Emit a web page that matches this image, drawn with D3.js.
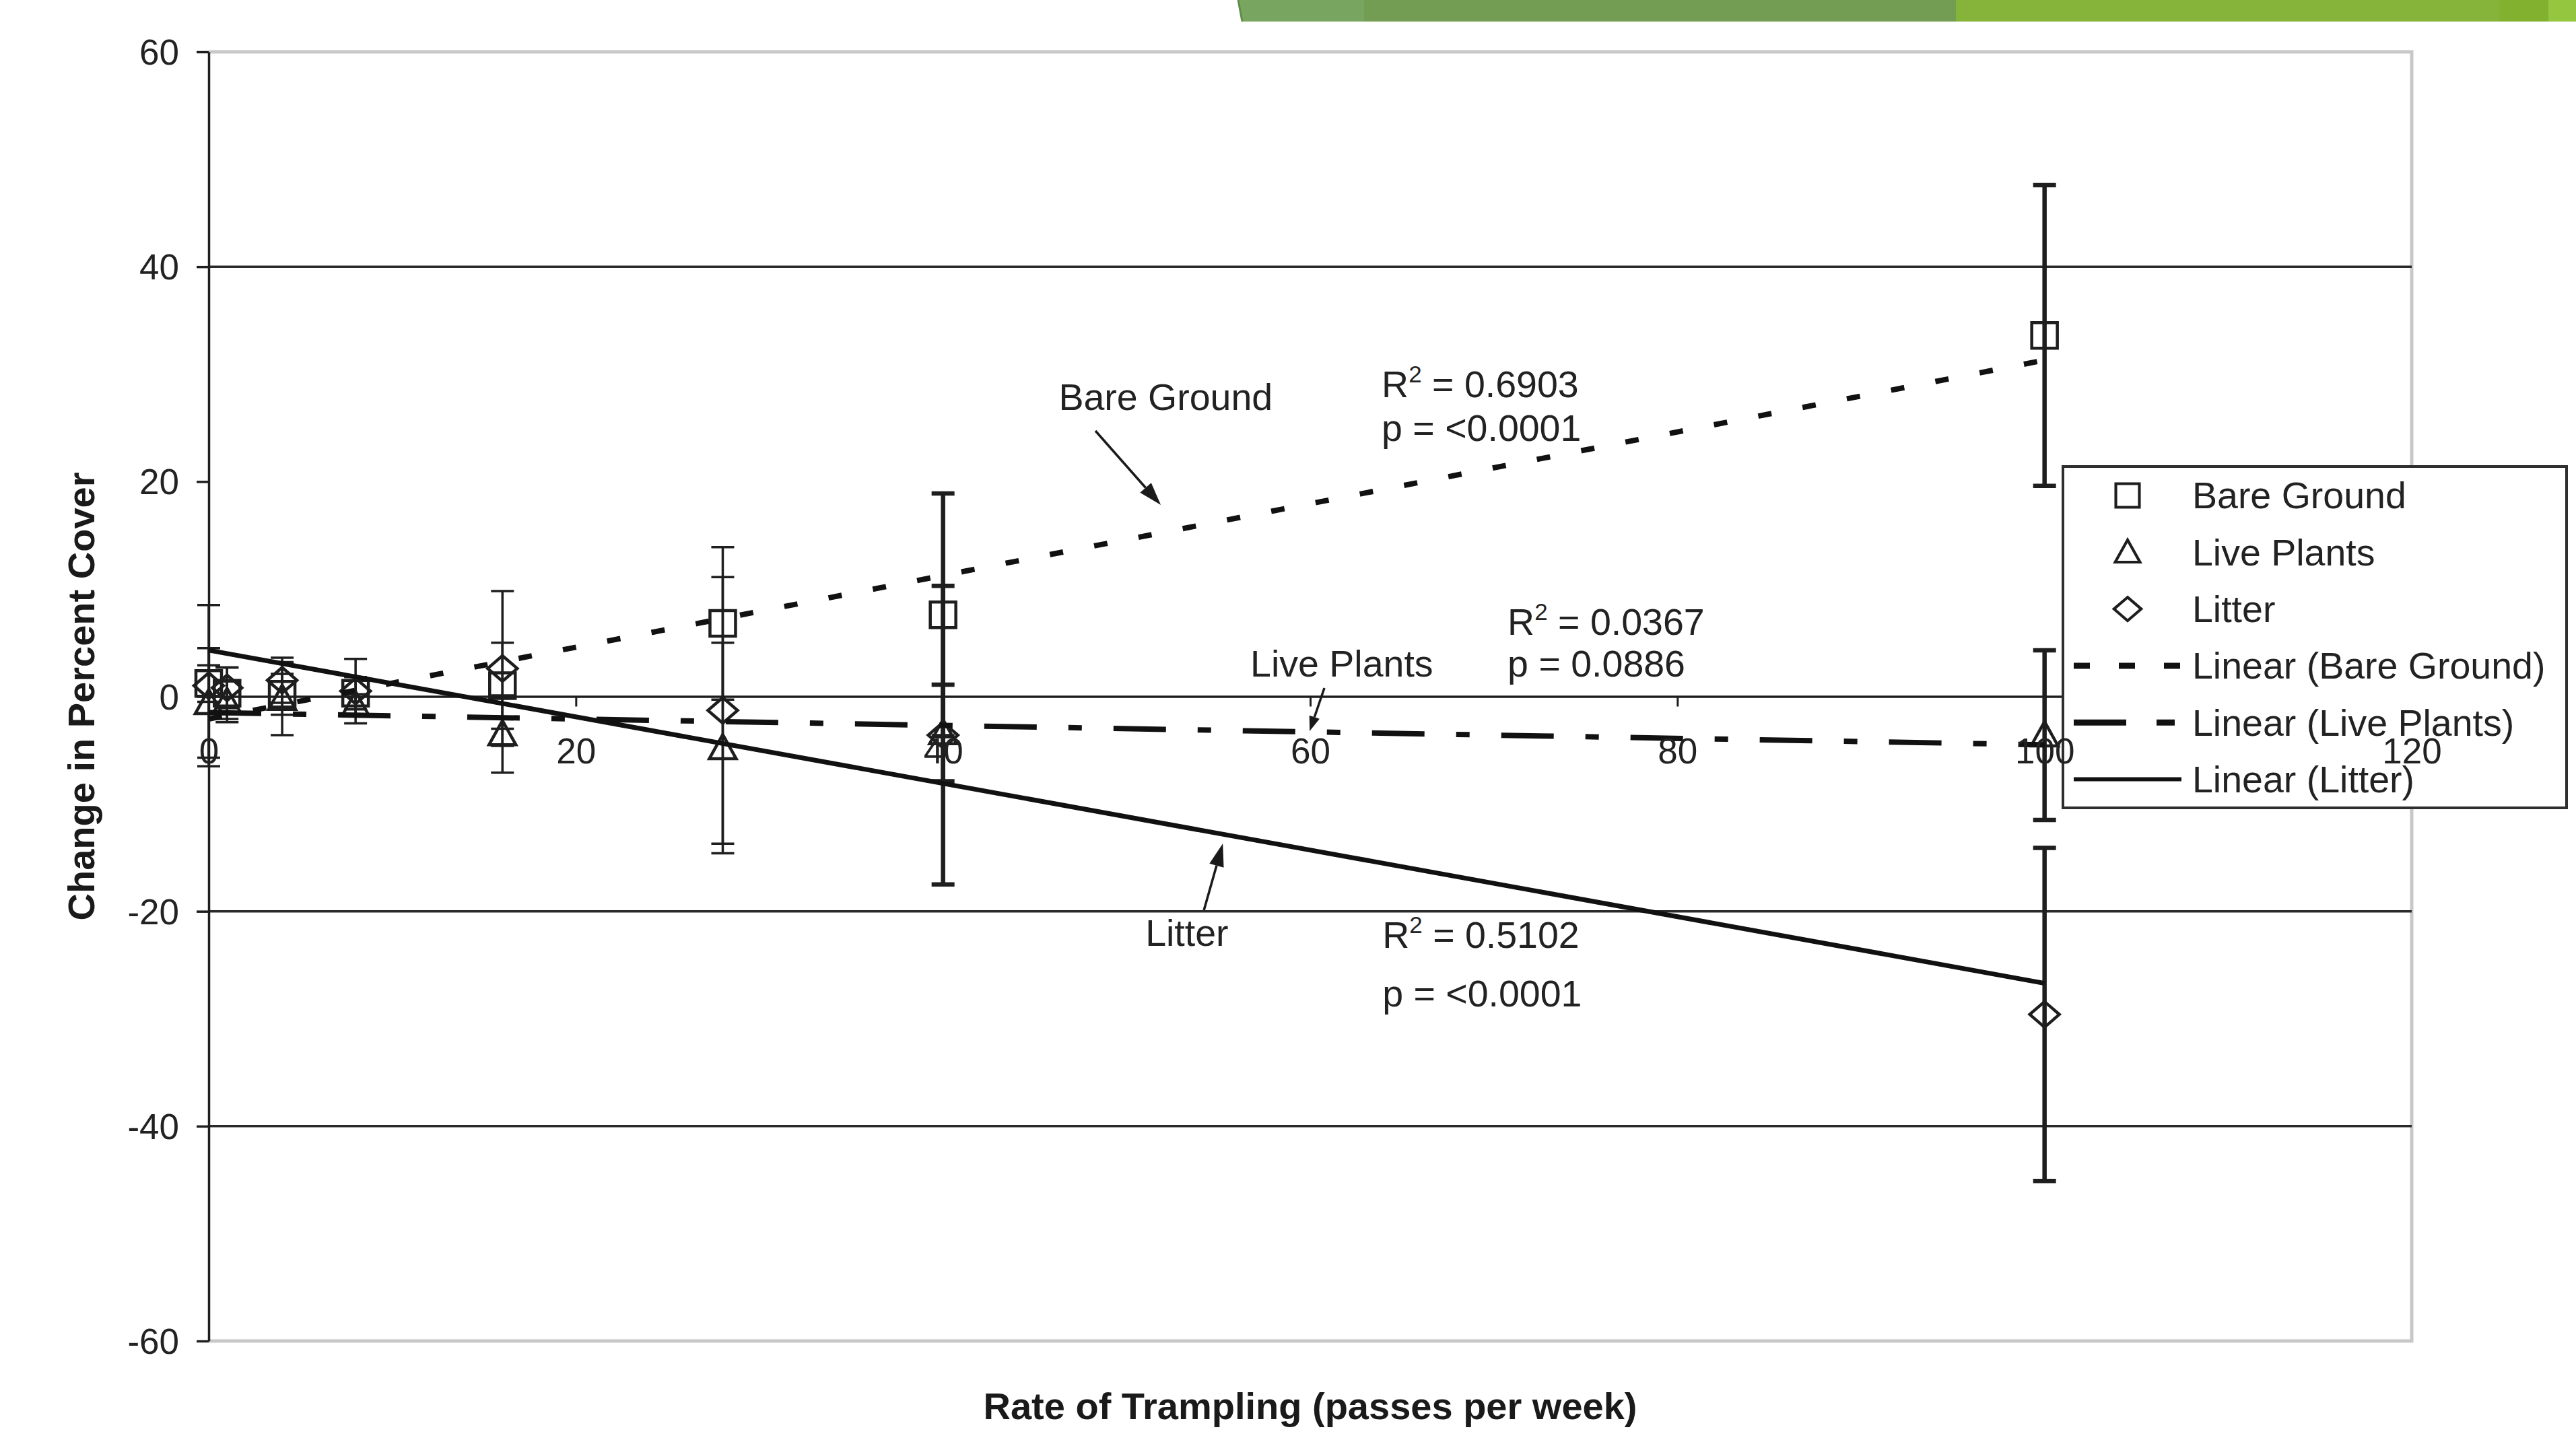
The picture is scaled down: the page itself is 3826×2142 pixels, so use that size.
<!DOCTYPE html>
<html><head><meta charset="utf-8">
<script src="https://cdn.jsdelivr.net/npm/d3@7"></script>
<style>html,body{margin:0;padding:0;background:#fff;overflow:hidden;} svg{display:block;}</style>
</head><body>
<script>
// ---------------- data ----------------
const xValues        = [0, 1, 4, 8, 16, 28, 40, 100];
const bareGround     = [1.2, 0.3, 0.2, 0.3, 1.0, 6.8, 7.6, 33.6];
const bareGroundErr  = [1.7, 2.4, 1.9, 1.5, 4.0, 7.1, 11.3, 14.0];
const livePlants     = [-0.6, -0.5, -0.2, -0.8, -3.5, -4.8, -3.4, -3.6];
const livePlantsErr  = [5.1, 1.9, 3.4, 1.0, 3.6, 9.8, 4.5, 7.9];
const litter         = [1.0, 0.8, 1.5, 0.5, 2.6, -1.3, -3.6, -29.6];
const litterErr      = [7.5, 1.9, 2.1, 3.0, 7.2, 12.4, 13.9, 15.5];
// linear trend: [intercept, slope]
const trendBareGround = [-2.1, 0.334];
const trendLivePlants = [-1.5, -0.030];
const trendLitter     = [4.3, -0.31];
const seriesNames = ["Bare Ground", "Live Plants", "Litter"];
const trendNames  = ["Linear (Bare Ground)", "Linear (Live Plants)", "Linear (Litter)"];
const r2Values = ["0.6903", "0.0367", "0.5102"];
const pValues  = ["<0.0001", "0.0886", "<0.0001"];
const xTicks = [0, 20, 40, 60, 80, 100, 120];
const yTicks = [-60, -40, -20, 0, 20, 40, 60];
const gridValues = [40, -20, -40];
const xTitle = "Rate of Trampling (passes per week)";
const yTitle = "Change in Percent Cover";

// ---------------- setup ----------------
const W = 3826, H = 2142;
const FONT = "'Liberation Sans', Arial, Helvetica, sans-serif";
const INK = "#1e1e1e";
const TXT = 55.5;
const svg = d3.select("body").append("svg").attr("width", W).attr("height", H)
  .style("font-family", FONT);
svg.append("rect").attr("width", W).attr("height", H).attr("fill", "#fff");

const x = d3.scaleLinear().domain([0, 120]).range([310, 3582]);
const y = d3.scaleLinear().domain([-60, 60]).range([1992, 77]);

// decorative green banner at the top
const banner = svg.append("g");
[[1839, 2026, "#78a660"], [2026, 2905, "#729d52"], [2905, 3712, "#86b43a"],
 [3712, 3785, "#82b02f"], [3785, 3826, "#94c640"]].forEach(([a, b, c], i) => {
  const slant = i === 0 ? 6 : 0;
  banner.append("polygon")
    .attr("points", `${a},0 ${b},0 ${b},32 ${a + slant},32`)
    .attr("fill", c);
});
banner.append("line").attr("x1", 1839).attr("y1", 0).attr("x2", 1845).attr("y2", 32)
  .attr("stroke", "#5f8e48").attr("stroke-width", 3);

// plot frame (light grey top/right/bottom)
svg.append("path").attr("fill", "none").attr("stroke", "#c8c8c8").attr("stroke-width", 5)
  .attr("d", `M${x(0)},${y(60)}H${x(120)}V${y(-60)}H${x(0)}`);

// gridlines
svg.append("g").selectAll("line").data(gridValues).join("line")
  .attr("x1", x(0)).attr("x2", x(120))
  .attr("y1", d => y(d)).attr("y2", d => y(d))
  .attr("stroke", "#2a2a2a").attr("stroke-width", 3.5);

// axes (lines and ticks)
const yAxis = svg.append("g").attr("transform", `translate(${x(0)},0)`)
  .call(d3.axisLeft(y).tickValues(yTicks).tickSizeInner(18).tickSizeOuter(0).tickPadding(26)
    .tickFormat(d => String(d)));
yAxis.select(".domain").attr("stroke", INK).attr("stroke-width", 3.5);
yAxis.selectAll(".tick line").attr("stroke", INK).attr("stroke-width", 3.5);
yAxis.selectAll(".tick text").attr("font-size", 53).attr("fill", "#222")
  .attr("font-family", FONT).attr("dy", "0.35em");

const xAxisLines = svg.append("g").attr("transform", `translate(0,${y(0)})`)
  .call(d3.axisBottom(x).tickValues(xTicks).tickSizeInner(15).tickSizeOuter(0).tickFormat(""));
xAxisLines.select(".domain").attr("stroke", INK).attr("stroke-width", 3.5);
xAxisLines.selectAll(".tick line").attr("stroke", INK).attr("stroke-width", 3);

// ---------------- series ----------------
function markerPath(type) {
  if (type === "square") return "M-19,-19H19V19H-19Z";
  if (type === "triangle") return "M0,-20L20,16H-20Z";
  return "M0,-19L22,0L0,19L-22,0Z";
}
const markerTypes = ["square", "triangle", "diamond"];
const seriesVals = [bareGround, livePlants, litter];
const seriesErrs = [bareGroundErr, livePlantsErr, litterErr];
const trends = [trendBareGround, trendLivePlants, trendLitter];
const dashes = ["20,47", "78,47,20,47", null];

const dataG = svg.append("g");
seriesVals.forEach((vals, si) => {
  const pts = xValues.map((xv, i) => ({ x: xv, v: vals[i], e: seriesErrs[si][i] }));
  const g = dataG.append("g");
  // error bars
  const eb = g.selectAll("g.eb").data(pts).join("g").attr("class", "eb")
    .attr("stroke", INK).attr("stroke-width", d => d.x >= 40 ? 6.5 : 3.5);
  eb.append("line").attr("x1", d => x(d.x)).attr("x2", d => x(d.x))
    .attr("y1", d => y(d.v + d.e)).attr("y2", d => y(d.v - d.e));
  eb.append("line").attr("x1", d => x(d.x) - 17).attr("x2", d => x(d.x) + 17)
    .attr("y1", d => y(d.v + d.e)).attr("y2", d => y(d.v + d.e));
  eb.append("line").attr("x1", d => x(d.x) - 17).attr("x2", d => x(d.x) + 17)
    .attr("y1", d => y(d.v - d.e)).attr("y2", d => y(d.v - d.e));
  // markers
  g.selectAll("path.mk").data(pts).join("path").attr("class", "mk")
    .attr("d", markerPath(markerTypes[si]))
    .attr("transform", d => `translate(${x(d.x)},${y(d.v)})`)
    .attr("fill", "none").attr("stroke", INK).attr("stroke-width", 4.5);
});

// trend lines
const line = d3.line().x(d => x(d[0])).y(d => y(d[1]));
const xExtent = d3.extent(xValues);
trends.forEach((t, i) => {
  const p = svg.append("path")
    .attr("d", line(xExtent.map(xv => [xv, t[0] + t[1] * xv])))
    .attr("fill", "none").attr("stroke", "#111")
    .attr("stroke-width", i === 2 ? 7 : 8);
  if (dashes[i]) p.attr("stroke-dasharray", dashes[i]);
});

// ---------------- legend ----------------
const lg = svg.append("g").attr("transform", "translate(3064,693)");
lg.append("rect").attr("width", 748).attr("height", 507)
  .attr("fill", "#fff").attr("stroke", "#2e2e2e").attr("stroke-width", 4);
const rows = seriesNames.map((n, i) => ({ name: n, kind: "marker", i }))
  .concat(trendNames.map((n, i) => ({ name: n, kind: "line", i })));
rows.forEach((r, k) => {
  const cy = 43 + k * 84.3;
  if (r.kind === "marker") {
    lg.append("path").attr("d", markerPath(markerTypes[r.i]))
      .attr("transform", `translate(96,${cy}) scale(0.92)`)
      .attr("fill", "none").attr("stroke", INK).attr("stroke-width", 4.5);
  } else {
    const l = lg.append("line").attr("x1", 16).attr("x2", 176).attr("y1", cy).attr("y2", cy)
      .attr("stroke", "#111").attr("stroke-width", r.i === 2 ? 6 : 9);
    if (r.i === 0) l.attr("stroke-dasharray", "24,43");
    if (r.i === 1) l.attr("stroke-dasharray", "78,45,27,45");
  }
  lg.append("text").attr("x", 192).attr("y", cy).attr("dy", "0.35em")
    .attr("font-size", TXT).attr("fill", "#222").text(r.name);
});

// x tick labels (drawn over legend)
const xLab = svg.append("g").attr("transform", `translate(0,${y(0)})`)
  .call(d3.axisBottom(x).tickValues(xTicks).tickSize(0).tickPadding(62).tickFormat(d => String(d)));
xLab.select(".domain").remove();
xLab.selectAll(".tick text").attr("font-size", 53).attr("fill", "#222").attr("font-family", FONT);

// ---------------- axis titles ----------------
svg.append("text").attr("x", (x(0) + x(120)) / 2).attr("y", 2108)
  .attr("text-anchor", "middle").attr("font-size", 56).attr("font-weight", "bold")
  .attr("fill", "#1a1a1a").text(xTitle);
svg.append("text").attr("transform", `translate(140,${y(0)}) rotate(-90)`)
  .attr("text-anchor", "middle").attr("font-size", 56).attr("font-weight", "bold")
  .attr("fill", "#1a1a1a").text(yTitle);

// ---------------- annotations (data coordinates) ----------------
const ann = svg.append("g").attr("fill", "#222").attr("font-size", TXT);
const labelPos = [[46.3, 26.66], [56.74, 1.85], [51.02, -23.21]];
const statPos = [[[63.89, 27.85], [63.89, 23.78]], [[70.75, 5.73], [70.75, 1.85]], [[63.93, -23.4], [63.93, -28.85]]];
const arrows = [[[48.3, 24.72], [51.86, 17.83]], [[60.77, 0.78], [59.97, -3.23]], [[54.21, -19.89], [55.24, -13.69]]];
seriesNames.forEach((n, i) => {
  ann.append("text").attr("x", x(labelPos[i][0])).attr("y", y(labelPos[i][1])).text(n);
  const t = ann.append("text").attr("x", x(statPos[i][0][0])).attr("y", y(statPos[i][0][1]));
  t.append("tspan").text("R");
  t.append("tspan").attr("font-size", 35).attr("dy", -22).text("2");
  t.append("tspan").attr("dy", 22).text(" = " + r2Values[i]);
  ann.append("text").attr("x", x(statPos[i][1][0])).attr("y", y(statPos[i][1][1]))
    .text("p = " + pValues[i]);
  // arrow
  const [a, b] = arrows[i];
  const x1 = x(a[0]), y1 = y(a[1]), x2 = x(b[0]), y2 = y(b[1]);
  const ang = Math.atan2(y2 - y1, x2 - x1);
  const L = i === 1 ? 22 : 34, hw = i === 1 ? 8 : 11;
  const bx = x2 - L * Math.cos(ang), by = y2 - L * Math.sin(ang);
  ann.append("line").attr("x1", x1).attr("y1", y1).attr("x2", bx).attr("y2", by)
    .attr("stroke", "#1a1a1a").attr("stroke-width", 3.5);
  ann.append("polygon").attr("points", [
    [x2, y2],
    [bx + hw * Math.sin(ang), by - hw * Math.cos(ang)],
    [bx - hw * Math.sin(ang), by + hw * Math.cos(ang)]
  ].map(p => p.join(",")).join(" ")).attr("fill", "#1a1a1a");
});
</script>
</body></html>
